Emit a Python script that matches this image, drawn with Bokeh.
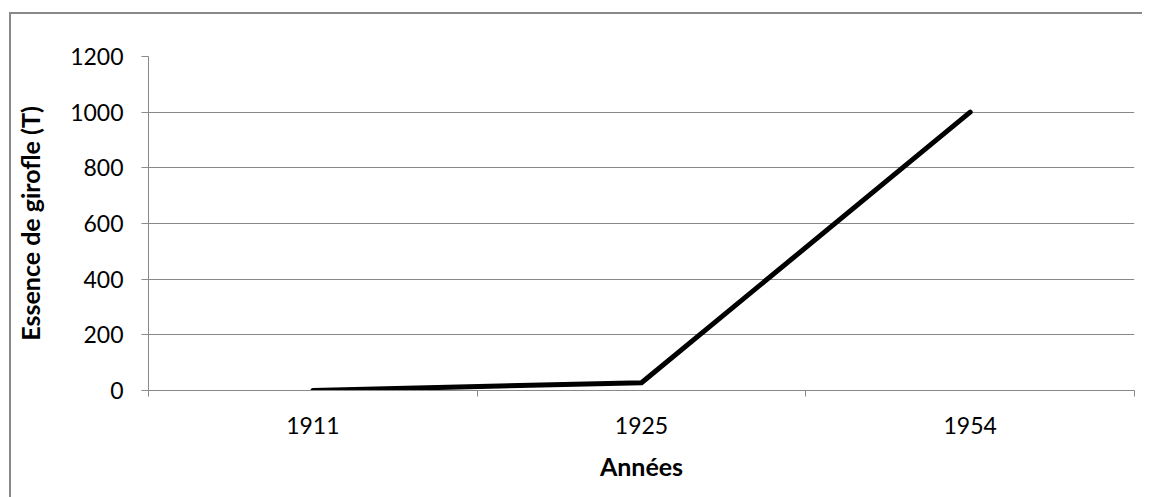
from bokeh.plotting import figure
from bokeh.layouts import column
from bokeh.models import FixedTicker, Range1d
from bokeh.embed import file_html
from bokeh.resources import INLINE

years = ["1911", "1925", "1954"]
values = [0, 28, 1000]
y_ticks = [0, 200, 400, 600, 800, 1000, 1200]

FONT = "Lato"
GRAY = "#898989"

xs = list(range(len(years)))

p = figure(width=1131, height=483, output_backend="svg", toolbar_location=None,
           x_range=Range1d(-0.5, len(years) - 0.5), y_range=Range1d(0, 1200),
           min_border_left=137, min_border_right=8, min_border_top=42, min_border_bottom=107)
p.outline_line_color = None
p.background_fill_color = "white"
p.border_fill_color = "white"

p.line(xs, values, line_color="black", line_width=5, line_join="round", line_cap="round")

# x axis
xa = p.xaxis[0]
xa.ticker = FixedTicker(ticks=xs, minor_ticks=[i - 0.5 for i in range(len(years) + 1)])
xa.major_label_overrides = {i: y for i, y in enumerate(years)}
xa.major_tick_out = 0
xa.major_tick_in = 0
xa.minor_tick_out = 6
xa.minor_tick_in = 0
xa.minor_tick_line_color = GRAY
xa.axis_line_color = GRAY
xa.major_label_standoff = 20
xa.major_label_text_font = FONT
xa.major_label_text_font_size = "23px"
xa.major_label_text_color = "black"
xa.axis_label = "Années"
xa.axis_label_text_font = FONT
xa.axis_label_text_font_style = "bold"
xa.axis_label_text_font_size = "25px"
xa.axis_label_text_color = "black"
xa.axis_label_standoff = 14

# y axis
ya = p.yaxis[0]
ya.ticker = FixedTicker(ticks=y_ticks)
ya.minor_tick_line_color = None
ya.major_tick_out = 7
ya.major_tick_in = 0
ya.major_tick_line_color = GRAY
ya.axis_line_color = GRAY
ya.major_label_standoff = 18
ya.major_label_text_font = FONT
ya.major_label_text_font_size = "23px"
ya.major_label_text_color = "black"
ya.axis_label = "Essence de girofle (T)"
ya.axis_label_text_font = FONT
ya.axis_label_text_font_style = "bold"
ya.axis_label_text_font_size = "25px"
ya.axis_label_text_color = "black"
ya.axis_label_standoff = 22

p.xgrid.grid_line_color = None
p.ygrid.grid_line_color = GRAY
p.ygrid.grid_line_width = 1

layout = column(p, styles={"margin-left": "9px", "margin-top": "12px",
                           "border-left": "2px solid " + GRAY,
                           "border-top": "2px solid " + GRAY})

open("out.html", "w").write(file_html(layout, INLINE))
